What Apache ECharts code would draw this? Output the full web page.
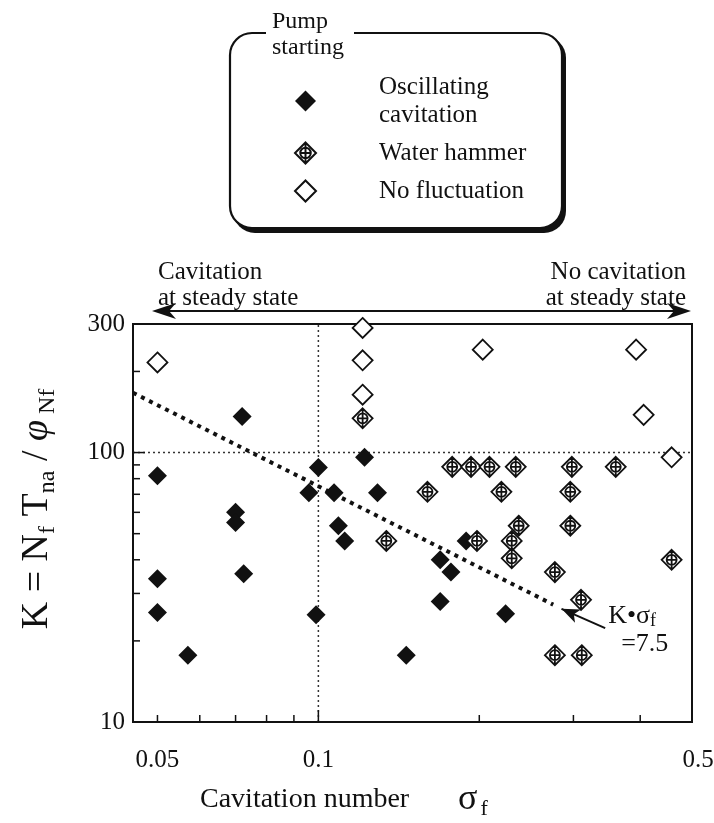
<!DOCTYPE html>
<html>
<head>
<meta charset="utf-8">
<script src="https://cdn.jsdelivr.net/npm/echarts@6/dist/echarts.min.js"></script>
<style>
  html, body { margin: 0; padding: 0; background: #fff; }
  #chart { width: 714px; height: 823px; }
</style>
</head>
<body>
<div id="chart"></div>
<script>
// Cavitation number sigma_f vs K = N_f T_na / phi_Nf at pump starting
const oscillatingCavitation = [
  [0.050, 82], [0.050, 34], [0.050, 25.5], [0.057, 17.7],
  [0.072, 136], [0.070, 60], [0.070, 55], [0.0725, 35.5],
  [0.100, 88], [0.096, 71], [0.099, 25], [0.107, 71],
  [0.109, 53.5], [0.112, 47], [0.122, 96], [0.129, 71],
  [0.146, 17.7], [0.169, 40], [0.177, 36], [0.169, 28],
  [0.189, 47], [0.224, 25.2]
];
const waterHammer = [
  [0.121, 134], [0.134, 47], [0.160, 71.5],
  [0.178, 88.5], [0.193, 88.5], [0.209, 88.5], [0.234, 88.5], [0.298, 88.5], [0.360, 88.5],
  [0.220, 71.5], [0.296, 71.5], [0.237, 53.5], [0.296, 53.5],
  [0.198, 47], [0.230, 47], [0.230, 40.5], [0.277, 36], [0.310, 28.4],
  [0.277, 17.7], [0.311, 17.7], [0.458, 40]
];
const noFluctuation = [
  [0.050, 216], [0.121, 290], [0.121, 220], [0.121, 164],
  [0.203, 241], [0.393, 241], [0.406, 138], [0.458, 96]
];
const seriesNames = ['Oscillating cavitation', 'Water hammer', 'No fluctuation'];

const xRange = [0.045, 0.5];
const yRange = [10, 300];
const xTickLabels = [0.05, 0.1, 0.5];
const yTickLabels = [10, 100, 300];
const xMinorTicks = [0.05, 0.06, 0.07, 0.08, 0.09, 0.2, 0.3, 0.4];
const yMinorTicks = [20, 30, 40, 50, 60, 70, 80, 90, 200];
const xMajorTicks = [0.1];
const yMajorTicks = [100];

// K * sigma_f = const reference line
const kSigma = 7.5;
const kSigmaSpan = [0.045, 0.275];
const kSigmaArrow = [[0.344, 22.3], [0.285, 26.3]];

const FONT = 'Liberation Serif';
const INK = '#111';

// diamond with inscribed circle and cross
const hammerSymbol = 'path://M10,0 L20,10 L10,20 L0,10 Z M15,10 A5,5 0 1,1 5,10 A5,5 0 1,1 15,10 Z M10,0 L10,20 M5,10 L15,10';

const chart = echarts.init(document.getElementById('chart'), null, { renderer: 'canvas' });

const hiddenAxis = {
  axisLine: { show: false }, axisTick: { show: false },
  axisLabel: { show: false }, splitLine: { show: false }
};

chart.setOption({
  animation: false,
  backgroundColor: '#fff',
  grid: {
    left: 133, right: 22, top: 324, bottom: 101,
    show: true, borderColor: INK, borderWidth: 2, backgroundColor: 'transparent'
  },
  xAxis: Object.assign({ type: 'log', logBase: 10, min: xRange[0], max: xRange[1] }, hiddenAxis),
  yAxis: Object.assign({ type: 'log', logBase: 10, min: yRange[0], max: yRange[1] }, hiddenAxis),
  legend: {
    left: 289, top: 68, orient: 'vertical',
    itemWidth: 21, itemHeight: 21, itemGap: 10,
    selectedMode: false,
    data: seriesNames,
    formatter: n => n === 'Oscillating cavitation' ? 'Oscillating\ncavitation' : n,
    textStyle: { fontFamily: FONT, fontSize: 25, color: INK, lineHeight: 28, padding: [0, 0, 0, 58] }
  },
  series: [
    {
      name: 'sigma ref', type: 'line', silent: true, symbol: 'none', z: 1,
      data: [[0.1, yRange[0]], [0.1, yRange[1]]],
      lineStyle: { color: '#333', width: 1.5, type: [2, 3] }
    },
    {
      name: 'K ref', type: 'line', silent: true, symbol: 'none', z: 1,
      data: [[xRange[0], 100], [xRange[1], 100]],
      lineStyle: { color: '#333', width: 1.5, type: [2, 3] }
    },
    {
      name: 'K sigma', type: 'line', silent: true, symbol: 'none', z: 2,
      data: kSigmaSpan.map(s => [s, kSigma / s]),
      lineStyle: { color: INK, width: 4, type: [4, 5] },
      markLine: {
        silent: true, symbol: ['none', 'arrow'], symbolSize: [11, 18],
        label: { show: false },
        lineStyle: { color: INK, width: 2, type: 'solid' },
        data: [[{ coord: kSigmaArrow[0] }, { coord: kSigmaArrow[1] }]]
      }
    },
    {
      name: seriesNames[0], type: 'scatter', z: 4,
      symbol: 'diamond', symbolSize: 19,
      itemStyle: { color: INK, opacity: 1 },
      data: oscillatingCavitation
    },
    {
      name: seriesNames[1], type: 'scatter', z: 4,
      symbol: hammerSymbol, symbolSize: 20,
      itemStyle: { color: '#fff', borderColor: INK, borderWidth: 1.8, opacity: 1 },
      data: waterHammer
    },
    {
      name: seriesNames[2], type: 'scatter', z: 4,
      symbol: 'diamond', symbolSize: 20,
      itemStyle: { color: '#fff', borderColor: INK, borderWidth: 1.8, opacity: 1 },
      data: noFluctuation
    }
  ]
});

const px = (x, y) => chart.convertToPixel({ gridIndex: 0 }, [x, y]);
const g = [];
const line = (x1, y1, x2, y2, w) => g.push({
  type: 'line', silent: true, z: 5,
  shape: { x1, y1, x2, y2 }, style: { stroke: INK, lineWidth: w || 1.5 }
});
const text = (x, y, t, opt) => g.push({
  type: 'text', silent: true, z: 6, x, y,
  rotation: (opt && opt.rotation) || 0,
  style: Object.assign({
    text: t, fontFamily: FONT, fontSize: 25, fill: INK,
    align: 'left', verticalAlign: 'middle'
  }, opt && opt.style)
});

const bottomY = px(xRange[0], yRange[0])[1];
const leftX = px(xRange[0], yRange[0])[0];

// axis ticks, drawn inward
xMinorTicks.forEach(v => { const p = px(v, yRange[0]); line(p[0], bottomY, p[0], bottomY - 7); });
xMajorTicks.forEach(v => { const p = px(v, yRange[0]); line(p[0], bottomY, p[0], bottomY - 12); });
yMinorTicks.forEach(v => { const p = px(xRange[0], v); line(leftX, p[1], leftX + 7, p[1]); });
yMajorTicks.forEach(v => { const p = px(xRange[0], v); line(leftX, p[1], leftX + 12, p[1]); });

// tick labels
xTickLabels.forEach(v => {
  const p = px(v, yRange[0]);
  text(p[0] + (v === 0.5 ? 6 : 0), bottomY + 38, String(v), { style: { align: 'center' } });
});
yTickLabels.forEach(v => {
  const p = px(xRange[0], v);
  text(leftX - 8, p[1], String(v), { style: { align: 'right' } });
});

// axis titles
text(200, 800, 'Cavitation number', { style: { fontSize: 28 } });
text(458, 800, '{g|σ}{s|f}', {
  style: {
    rich: {
      g: { fontFamily: FONT, fontSize: 36, fill: INK, lineHeight: 40 },
      s: { fontFamily: FONT, fontSize: 22, fill: INK, lineHeight: 40, verticalAlign: 'bottom', padding: [0, 0, 0, 3] }
    }
  }
});
text(37, 509, '{m|K = N}{s|f}{m| T}{s|na}{m| / }{i|φ}{s| Nf}', {
  rotation: Math.PI / 2,
  style: {
    align: 'center',
    rich: {
      m: { fontFamily: FONT, fontSize: 38, fill: INK, lineHeight: 46 },
      i: { fontFamily: FONT, fontSize: 38, fill: INK, lineHeight: 46, fontStyle: 'italic' },
      s: { fontFamily: FONT, fontSize: 24, fill: INK, lineHeight: 46, verticalAlign: 'bottom' }
    }
  }
});

// K * sigma_f annotation next to the arrow tail
const tail = px(kSigmaArrow[0][0], kSigmaArrow[0][1]);
text(tail[0] + 3, tail[1] + 2, '{m|K•σ}{s|f}\n{m|  =7.5}', {
  style: {
    rich: {
      m: { fontFamily: FONT, fontSize: 26, fill: INK, lineHeight: 28 },
      s: { fontFamily: FONT, fontSize: 18, fill: INK, lineHeight: 28, verticalAlign: 'bottom' }
    }
  }
});

// steady-state regime header with double arrow
text(158, 272, 'Cavitation');
text(158, 298, 'at steady state');
text(686, 272, 'No cavitation', { style: { align: 'right' } });
text(686, 298, 'at steady state', { style: { align: 'right' } });
line(160, 311, 684, 311, 2);
g.push({ type: 'polygon', silent: true, z: 5, shape: { points: [[152, 311], [176, 303], [169, 311], [176, 319]] }, style: { fill: INK } });
g.push({ type: 'polygon', silent: true, z: 5, shape: { points: [[691, 311], [667, 303], [674, 311], [667, 319]] }, style: { fill: INK } });

// legend frame: offset dark plate under a white outlined card, title breaking the top edge
g.push({
  type: 'rect', silent: true, z: -2,
  shape: { x: 233, y: 36, width: 333, height: 197, r: 22 },
  style: { fill: INK }
});
g.push({
  type: 'rect', silent: true, z: -1,
  shape: { x: 230, y: 33, width: 332, height: 195, r: 22 },
  style: { fill: '#fff', stroke: INK, lineWidth: 2.2 }
});
g.push({ type: 'rect', silent: true, z: 0, shape: { x: 266, y: 26, width: 88, height: 14 }, style: { fill: '#fff' } });
text(272, 22, 'Pump', { style: { fontSize: 24 } });
text(272, 48, 'starting', { style: { fontSize: 24 } });

chart.setOption({ graphic: { elements: g } });
</script>
</body>
</html>
